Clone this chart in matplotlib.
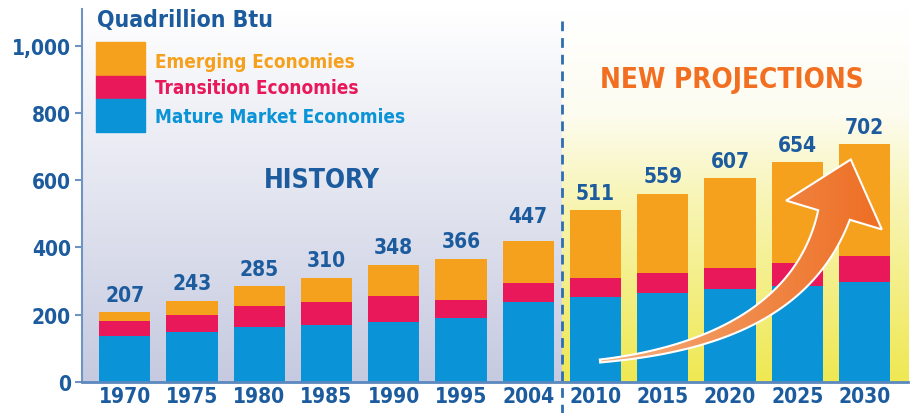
import numpy as np
import matplotlib
matplotlib.use("Agg")
import matplotlib.pyplot as plt
from matplotlib.patches import Polygon
from matplotlib.colors import LinearSegmentedColormap

plt.rcParams['font.family'] = ['DejaVu Sans']
plt.rcParams['font.stretch'] = 'condensed'
plt.rcParams['font.weight'] = 'bold'

# Data (quadrillion Btu)
years = ['1970', '1975', '1980', '1985', '1990', '1995', '2004',
         '2010', '2015', '2020', '2025', '2030']
mature = [138, 148, 162, 168, 178, 190, 239, 254, 265, 275, 285, 297]
transition = [42, 51, 63, 71, 79, 54, 56, 55, 59, 64, 69, 77]
emerging = [27, 43, 60, 71, 91, 122, 124, 202, 235, 267, 300, 332]
totals = [207, 243, 285, 310, 348, 366, 447, 511, 559, 607, 654, 702]

c_blue = '#0a93d6'
c_red = '#e8185a'
c_orange = '#f6a11d'
c_text = '#1c5c9e'

W, H = 911, 414
fig = plt.figure(figsize=(W / 100, H / 100), dpi=100)
ax = fig.add_axes([82 / W, 1 - 383 / H, (908 - 82) / W, (383 - 10) / H])

x = np.arange(len(years))
step = (864.5 - 124.7) / 11
x0 = -(124.7 - 82) / step
x1 = 11 + (908 - 864.5) / step
ymax = (383 - 10) / 0.3365
split = 6.5

ax.set_xlim(x0, x1)
ax.set_ylim(0, ymax)

# background gradients
g = np.linspace(0, 1, 256).reshape(-1, 1)
cm_hist = LinearSegmentedColormap.from_list('h', ['#ffffff', '#c6cae0'])
ax.imshow(g, cmap=cm_hist, extent=[x0, split, 0, ymax], origin='upper',
          aspect='auto', zorder=0)
cm_proj = LinearSegmentedColormap.from_list(
    'p', [(0, '#ffffff'), (0.28, '#fdfcf0'), (0.5, '#f8f5b8'), (1, '#efe852')])
ax.imshow(g, cmap=cm_proj, extent=[split, x1, 0, ymax], origin='upper',
          aspect='auto', zorder=0)

w = 0.76
ax.bar(x, mature, w, color=c_blue, zorder=2)
ax.bar(x, transition, w, bottom=mature, color=c_red, zorder=2)
bot2 = np.array(mature) + np.array(transition)
ax.bar(x, emerging, w, bottom=bot2, color=c_orange, zorder=2)
tops = bot2 + np.array(emerging)
for i, t in enumerate(totals):
    gap = 45 if years[i] == '2004' else 22
    ax.text(x[i], tops[i] + gap, str(t), ha='center', va='bottom',
            fontsize=15, color=c_text, fontweight='bold', zorder=4)

# separator
ax.axvline(split, ymin=-0.09, ymax=0.97, color='#2f6eae', lw=2,
           ls=(0, (3.5, 2.5)), clip_on=False, zorder=3)

ax.text(2.93, 600, 'HISTORY', ha='center', va='center', fontsize=19,
        color=c_text, fontweight='bold')
ax.text(9.03, 900, 'NEW PROJECTIONS', ha='center', va='center', fontsize=20,
        color='#f26f22', fontweight='bold')

# axes styling
for s in ['top', 'right']:
    ax.spines[s].set_visible(False)
ax.spines['left'].set_color('#6f94c2')
ax.spines['left'].set_linewidth(1.5)
ax.spines['bottom'].set_color('#5a88bf')
ax.spines['bottom'].set_linewidth(2)
ax.set_yticks([0, 200, 400, 600, 800, 1000])
ax.set_yticklabels(['0', '200', '400', '600', '800', '1,000'])
ax.set_xticks(x)
ax.set_xticklabels(years)
ax.tick_params(axis='y', length=5, width=1.5, color='#6f94c2', pad=3,
               labelsize=15, labelcolor=c_text)
ax.tick_params(axis='x', length=0, pad=3, labelsize=15, labelcolor=c_text)
for lab in ax.get_xticklabels() + ax.get_yticklabels():
    lab.set_fontweight('bold')

# legend block
fig.text(97 / W, 1 - 21 / H, 'Quadrillion Btu', fontsize=16.5, color=c_text,
         fontweight='bold', va='center', ha='left')
leg = [('Emerging Economies', c_orange, 43, 77, 62),
       ('Transition Economies', c_red, 77, 100, 88),
       ('Mature Market Economies', c_blue, 100, 133, 118)]
for lbl, col, ya, yb, yt in leg:
    fig.patches.append(plt.Rectangle((96 / W, 1 - yb / H), 49 / W, (yb - ya) / H,
                                     transform=fig.transFigure, color=col,
                                     zorder=3))
    fig.text(155 / W, 1 - yt / H, lbl, fontsize=13.6, color=col,
             fontweight='bold', va='center', ha='left')

# curved arrow (pixel space -> figure fraction)
P0 = np.array([600.0, 362.0])
P1 = np.array([796.0, 342.0])
P2 = np.array([834.0, 216.0])
t = np.linspace(0, 1, 80)[:, None]
pts = (1 - t) ** 2 * P0 + 2 * (1 - t) * t * P1 + t ** 2 * P2
d = 2 * (1 - t) * (P1 - P0) + 2 * t * (P2 - P1)
d = d / np.linalg.norm(d, axis=1, keepdims=True)
nrm = np.column_stack([d[:, 1], -d[:, 0]])
half = (1.5 + 15 * t[:, 0] ** 1.3)[:, None]
upper = pts + nrm * half
lower = pts - nrm * half
dirn = d[-1]
nd = nrm[-1]
tip = P2 + dirn * 58
hl = P2 + nd * 50
hr = P2 - nd * 50
poly = np.vstack([upper, hl, tip, hr, lower[::-1]])
polyf = np.column_stack([poly[:, 0] / W, 1 - poly[:, 1] / H])

cm_arr = LinearSegmentedColormap.from_list('a', ['#f6b080', '#f08a4a', '#ee6a1e'])
gx = np.linspace(0, 1, 256).reshape(1, -1)
axa = fig.add_axes([0, 0, 1, 1], facecolor='none')
axa.set_xlim(0, 1)
axa.set_ylim(0, 1)
axa.axis('off')
im = axa.imshow(gx, cmap=cm_arr, extent=[600 / W, 900 / W, 1 - 365 / H, 1 - 150 / H],
                aspect='auto', zorder=4)
clip = Polygon(polyf, closed=True, transform=axa.transData, facecolor='none',
               edgecolor='none')
axa.add_patch(clip)
im.set_clip_path(clip)
axa.add_patch(Polygon(polyf, closed=True, facecolor='none', edgecolor='white',
                      lw=1.5, zorder=5))

fig.savefig('out.png', dpi=100)
